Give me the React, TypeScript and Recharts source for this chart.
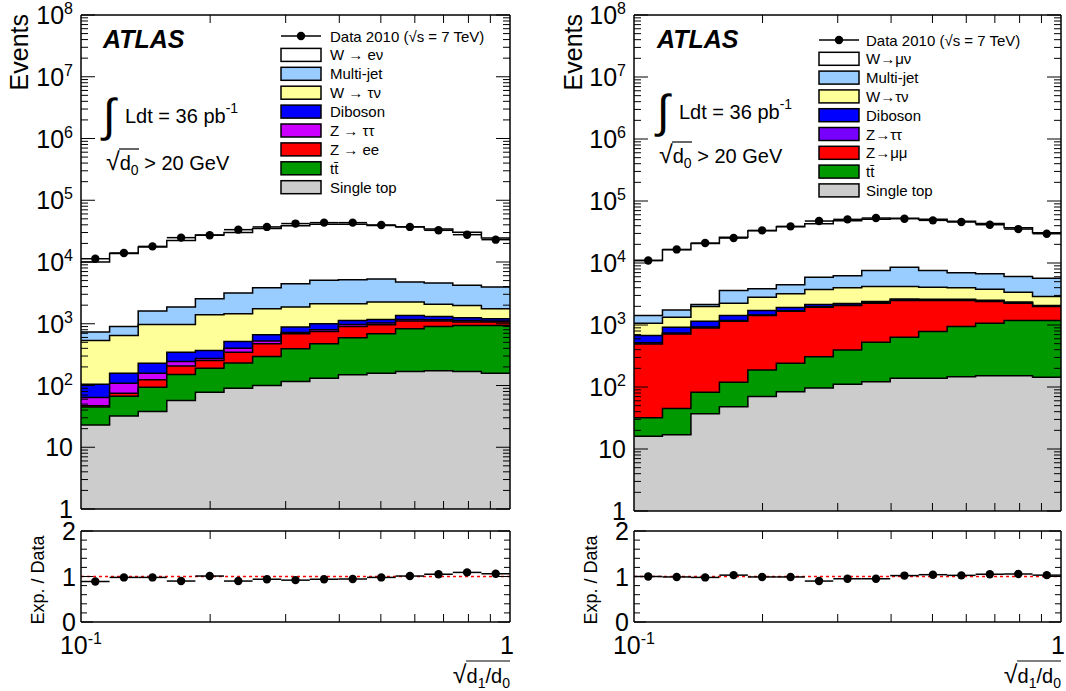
import React from "react";
import {
  ComposedChart,
  Area,
  Scatter,
  ErrorBar,
  XAxis,
  YAxis,
  ReferenceLine,
} from "recharts";

const FONT = "'Liberation Sans', Arial, Helvetica, sans-serif";

// 15 bins, uniform in log10(sqrt(d1/d0)) between 0.1 and 1
const N_BINS = 15;
const binEdges = Array.from({ length: N_BINS + 1 }, (_, i) =>
  Math.pow(10, -1 + i / N_BINS)
);
const binCenters = Array.from({ length: N_BINS }, (_, i) =>
  Math.pow(10, -1 + (i + 0.5) / N_BINS)
);

const xTicks = [0.1, 0.2, 0.3, 0.4, 0.5, 0.6, 0.7, 0.8, 0.9, 1];
const yDecades = [0, 1, 2, 3, 4, 5, 6, 7, 8];
const ratioTicks = [0, 0.2, 0.4, 0.6, 0.8, 1, 1.2, 1.4, 1.6, 1.8, 2];

// ---- electron channel ----
const dataEl = [11300, 14000, 17900, 24800, 27100, 33400, 37000, 41900, 43400, 43400, 39800, 37000, 32600, 27700, 23000];
const ratioEl = [0.89, 0.98, 0.98, 0.9, 1.01, 0.9, 0.94, 0.92, 0.94, 0.945, 0.98, 1.01, 1.05, 1.09, 1.06];
const wenuEl = [9290, 12800, 15900, 20460, 24800, 26900, 30900, 34100, 35750, 35800, 33700, 32600, 29700, 26000, 20450];
const multijetEl = [196, 258, 629, 887, 1143, 1688, 2088, 2592, 2935, 3064, 3054, 2498, 2504, 2202, 2185];
const wtaunuEl = [431, 489, 745, 628, 1030, 935, 1087, 979, 1110, 977, 1071, 881, 746, 733, 545];
const dibosonEl = [41, 49, 72, 102, 96, 114, 139, 160, 200, 158, 150, 190, 154, 117, 105];
const ztautauEl = [17, 34, 34, 39, 20, 56, 50, 34, 49, 70, 61, 70, 56, 69, 40];
const zeeEl = [2, 8, 30, 55, 63, 114, 179, 296, 277, 312, 276, 275, 200, 124, 124];
const ttbarEl = [22, 35, 56, 94, 113, 142, 195, 277, 343, 444, 530, 661, 732, 771, 782];
const singleTopEl = [23, 32, 38, 57, 78, 90, 100, 116, 131, 149, 158, 169, 173, 169, 158];

// ---- muon channel ----
const dataMu = [10990, 16560, 20960, 25240, 33560, 38990, 47530, 50570, 53120, 51780, 48710, 45800, 41440, 35250, 29650];
const ratioMu = [1.0, 0.99, 0.98, 1.03, 0.99, 0.99, 0.9, 0.95, 0.95, 1.02, 1.04, 1.025, 1.05, 1.055, 1.03];
const wmunuMu = [9528, 14625, 18446, 22477, 29362, 34118, 36960, 41980, 43048, 44136, 43083, 39995, 36702, 31134, 24935];
const multijetMu = [351, 420, 154, 1350, 1023, 1265, 2179, 2240, 3398, 4399, 3501, 2977, 2900, 2674, 2816];
const wtaunuMu = [393, 414, 834, 828, 1097, 1256, 1593, 1754, 1781, 1557, 1466, 1372, 1282, 1033, 805];
const dibosonMu = [155, 177, 222, 239, 256, 220, 170, 130, 120, 110, 100, 95, 90, 80, 70];
const ztautauMu = [25, 25, 30, 30, 35, 35, 35, 30, 30, 30, 28, 26, 24, 22, 20];
const zmumuMu = [462, 671, 815, 1030, 1230, 1426, 1627, 1664, 1720, 1846, 1698, 1538, 1323, 1068, 804];
const ttbarMu = [16, 28, 45, 71, 118, 157, 212, 284, 404, 496, 643, 796, 915, 1026, 1035];
const singleTopMu = [16, 17, 37, 48, 70, 84, 96, 111, 122, 138, 139, 146, 152, 152, 143];

// legend order (top of stack first)
const namesEl = ["W \u2192 e\u03bd", "Multi-jet", "W \u2192 \u03c4\u03bd", "Diboson", "Z \u2192 \u03c4\u03c4", "Z \u2192 ee", "tt\u0304", "Single top"];
const namesMu = ["W\u2192\u03bc\u03bd", "Multi-jet", "W\u2192\u03c4\u03bd", "Diboson", "Z\u2192\u03c4\u03c4", "Z\u2192\u03bc\u03bc", "tt\u0304", "Single top"];
const colorsEl = ["#ffffff", "#99ccff", "#ffff99", "#0000ff", "#cc00ff", "#ff0000", "#009900", "#cccccc"];
const colorsMu = ["#ffffff", "#99ccff", "#ffff99", "#0000ff", "#7700ff", "#ff0000", "#009900", "#cccccc"];

const compsEl = [wenuEl, multijetEl, wtaunuEl, dibosonEl, ztautauEl, zeeEl, ttbarEl, singleTopEl];
const compsMu = [wmunuMu, multijetMu, wtaunuMu, dibosonMu, ztautauMu, zmumuMu, ttbarMu, singleTopMu];

// cumulative stack tops at bin edges (last edge repeats the last bin for stepAfter)
function buildStack(comps: number[][]) {
  const bottomUp = [...comps].reverse();
  return binEdges.map((x, i) => {
    const b = Math.min(i, N_BINS - 1);
    const row: Record<string, number> = { x };
    let sum = 0;
    bottomUp.forEach((c, k) => {
      sum += c[b];
      row[`s${k}`] = sum;
    });
    return row;
  });
}

function toPoints(vals: number[]) {
  return binCenters.map((x, i) => ({
    x,
    y: vals[i],
    ex: [x - binEdges[i], binEdges[i + 1] - x],
  }));
}

const logTicks: number[] = [];
yDecades.forEach((e) => {
  if (e === 8) logTicks.push(1e8);
  else for (let m = 1; m <= 9; m++) logTicks.push(m * Math.pow(10, e));
});

const dot = (p: any) => <circle cx={p.cx} cy={p.cy} r={4.2} fill="#000" />;

const axisLine = { stroke: "#000", strokeWidth: 1.5 };

const logYTick = (side: "left" | "right") => (p: any) => {
  const v = p.payload.value;
  const e = Math.round(Math.log10(v));
  const major = Math.abs(v / Math.pow(10, e) - 1) < 1e-6;
  const len = major ? 14 : 7;
  const dir = side === "left" ? 1 : -1;
  return (
    <g>
      <line x1={p.x} x2={p.x + dir * len} y1={p.y} y2={p.y} stroke="#000" strokeWidth={1} />
      {side === "left" && major && (
        <text x={p.x - 8} y={p.y + 9} textAnchor="end" fontSize={25} fontFamily={FONT} fill="#000">
          {e === 0 ? "1" : e === 1 ? "10" : (
            <>
              10<tspan dy={-10} fontSize={16}>{e}</tspan>
            </>
          )}
        </text>
      )}
    </g>
  );
};

const ratioYTick = (side: "left" | "right") => (p: any) => {
  const v = p.payload.value;
  const major = Math.abs(v - Math.round(v)) < 1e-6;
  const len = major ? 12 : 6;
  const dir = side === "left" ? 1 : -1;
  return (
    <g>
      <line x1={p.x} x2={p.x + dir * len} y1={p.y} y2={p.y} stroke="#000" strokeWidth={1} />
      {side === "left" && major && (
        <text x={p.x - 5} y={p.y + 9} textAnchor="end" fontSize={25} fontFamily={FONT} fill="#000">
          {Math.round(v)}
        </text>
      )}
    </g>
  );
};

const xTick = (side: "bottom" | "top", labels: boolean) => (p: any) => {
  const v = p.payload.value;
  const isOne = Math.abs(v - 1) < 1e-9;
  const edge = Math.abs(v - 0.1) < 1e-9 || isOne;
  const dir = side === "bottom" ? -1 : 1;
  return (
    <g>
      {!edge && (
        <line x1={p.x} x2={p.x} y1={p.y} y2={p.y + dir * 8} stroke="#000" strokeWidth={1} />
      )}
      {labels && edge && (
        <text
          x={isOne ? p.x + 4 : p.x}
          y={p.y + 32}
          textAnchor={isOne ? "end" : "middle"}
          fontSize={25}
          fontFamily={FONT}
          fill="#000"
        >
          {isOne ? "1" : (
            <>
              10<tspan dy={-10} fontSize={16}>-1</tspan>
            </>
          )}
        </text>
      )}
    </g>
  );
};

type Margin = { top: number; right: number; bottom: number; left: number };

// axes are 1px wide, margins are set so the plot frame lands where intended
const AX = 1;
function inner(m: Margin): Margin {
  return { top: m.top - AX, right: m.right - AX, bottom: m.bottom - AX, left: m.left - AX };
}

function MainPlot({ comps, colors, data, width, margin }: { comps: number[][]; colors: string[]; data: number[]; width: number; margin: Margin }) {
  const rows = buildStack(comps);
  const pts = toPoints(data);
  const n = comps.length;
  const order = Array.from({ length: n }, (_, j) => n - 1 - j);
  return (
    <ComposedChart width={width} height={535} data={rows} margin={inner(margin)}>
      <XAxis dataKey="x" type="number" scale="log" domain={[0.1, 1]} allowDataOverflow ticks={xTicks} interval={0} height={AX} tickSize={0} tickMargin={0} axisLine={axisLine} tickLine={false} tick={xTick("bottom", false)} />
      <XAxis xAxisId="top" orientation="top" dataKey="x" type="number" scale="log" domain={[0.1, 1]} allowDataOverflow ticks={xTicks} interval={0} height={AX} tickSize={0} tickMargin={0} axisLine={axisLine} tickLine={false} tick={xTick("top", false)} />
      <YAxis type="number" scale="log" domain={[1, 1e8]} allowDataOverflow ticks={logTicks} interval={0} width={AX} tickSize={0} tickMargin={0} axisLine={axisLine} tickLine={false} tick={logYTick("left")} />
      <YAxis yAxisId="right" orientation="right" type="number" scale="log" domain={[1, 1e8]} allowDataOverflow ticks={logTicks} interval={0} width={AX} tickSize={0} tickMargin={0} axisLine={axisLine} tickLine={false} tick={logYTick("right")} />
      {order.map((k) => (
        <Area
          key={k}
          dataKey={`s${k}`}
          type="stepAfter"
          baseValue={1}
          fill={colors[n - 1 - k]}
          fillOpacity={1}
          stroke="#000"
          strokeWidth={1.5}
          dot={false}
          activeDot={false}
          isAnimationActive={false}
        />
      ))}
      <Scatter data={pts} dataKey="y" shape={dot} isAnimationActive={false}>
        <ErrorBar dataKey="ex" direction="x" width={0} stroke="#000" strokeWidth={1.5} />
      </Scatter>
    </ComposedChart>
  );
}

function RatioPlot({ ratio, width, margin }: { ratio: number[]; width: number; margin: Margin }) {
  const pts = toPoints(ratio);
  return (
    <ComposedChart width={width} height={191} margin={inner(margin)}>
      <XAxis dataKey="x" type="number" scale="log" domain={[0.1, 1]} allowDataOverflow ticks={xTicks} interval={0} height={AX} tickSize={0} tickMargin={0} axisLine={axisLine} tickLine={false} tick={xTick("bottom", true)} />
      <XAxis xAxisId="top" orientation="top" dataKey="x" type="number" scale="log" domain={[0.1, 1]} allowDataOverflow ticks={xTicks} interval={0} height={AX} tickSize={0} tickMargin={0} axisLine={axisLine} tickLine={false} tick={xTick("top", false)} />
      <YAxis type="number" domain={[0, 2]} allowDataOverflow ticks={ratioTicks} interval={0} width={AX} tickSize={0} tickMargin={0} axisLine={axisLine} tickLine={false} tick={ratioYTick("left")} />
      <YAxis yAxisId="right" orientation="right" type="number" domain={[0, 2]} allowDataOverflow ticks={ratioTicks} interval={0} width={AX} tickSize={0} tickMargin={0} axisLine={axisLine} tickLine={false} tick={ratioYTick("right")} />
      <ReferenceLine y={1} stroke="#ff0000" strokeWidth={1.5} strokeDasharray="3 3" />
      <Scatter data={pts} dataKey="y" shape={dot} isAnimationActive={false}>
        <ErrorBar dataKey="ex" direction="x" width={0} stroke="#000" strokeWidth={1.5} />
      </Scatter>
    </ComposedChart>
  );
}

type TextCfg = {
  names: string[];
  colors: string[];
  legendX: number;
  legendY: number;
  legendDy: number;
  textX: number;
  atlasX: number;
  intX: number;
  intY: number;
  cutX: number;
  cutY: number;
  eventsX: number;
  ratioTitleX: number;
  frameRight: number;
};

function PanelText({ c }: { c: TextCfg }) {
  return (
    <g fontFamily={FONT} fill="#000">
      <text transform={`translate(${c.eventsX},14) rotate(-90)`} textAnchor="end" fontSize={25}>Events</text>
      <text transform={`translate(${c.ratioTitleX},580) rotate(-90)`} textAnchor="middle" fontSize={18}>Exp. / Data</text>
      <text x={c.atlasX} y={48} fontSize={25} fontWeight="bold" fontStyle="italic">ATLAS</text>
      <text x={c.intX} y={c.intY + 8} fontSize={46}>{"\u222b"}</text>
      <text x={c.intX + 22} y={c.intY} fontSize={20}>
        Ldt = 36 pb<tspan dy={-10} fontSize={14}>-1</tspan>
      </text>
      <text x={c.cutX} y={c.cutY} fontSize={20}>
        <tspan fontSize={25}>{"\u221a"}</tspan>d<tspan dy={5} fontSize={14}>0</tspan>
        <tspan dy={-5}> &gt; 20 GeV</tspan>
      </text>
      <line x1={c.cutX + 13} x2={c.cutX + 33} y1={c.cutY - 21} y2={c.cutY - 21} stroke="#000" strokeWidth={1.2} />
      {/* legend */}
      <line x1={c.legendX} x2={c.legendX + 40} y1={c.legendY} y2={c.legendY} stroke="#000" strokeWidth={1.5} />
      <circle cx={c.legendX + 20} cy={c.legendY} r={4.2} fill="#000" />
      <text x={c.textX} y={c.legendY + 5.5} fontSize={15}>Data 2010 ({"\u221a"}s = 7 TeV)</text>
      {c.names.map((name, i) => {
        const y = c.legendY + (i + 1) * c.legendDy;
        return (
          <g key={name}>
            <rect x={c.legendX} y={y - 6.5} width={40} height={13} fill={c.colors[i]} stroke="#000" strokeWidth={1.5} />
            <text x={c.textX} y={y + 5.5} fontSize={15}>{name}</text>
          </g>
        );
      })}
      {/* x title */}
      <text x={c.frameRight} y={683} textAnchor="end" fontSize={20}>
        <tspan fontSize={25}>{"\u221a"}</tspan>d<tspan dy={5} fontSize={14}>1</tspan>
        <tspan dy={-5}>/d</tspan>
        <tspan dy={5} fontSize={14}>0</tspan>
      </text>
      <line x1={c.frameRight - 44} x2={c.frameRight} y1={661} y2={661} stroke="#000" strokeWidth={1.2} />
    </g>
  );
}

const textEl: TextCfg = {
  names: namesEl, colors: colorsEl, legendX: 281, legendY: 36, legendDy: 18.9, textX: 330,
  atlasX: 103, intX: 103, intY: 123, cutX: 106, cutY: 170, eventsX: 28, ratioTitleX: 44, frameRight: 510,
};
const textMu: TextCfg = {
  names: namesMu, colors: colorsMu, legendX: 819, legendY: 40, legendDy: 18.8, textX: 866,
  atlasX: 657, intX: 657, intY: 119, cutX: 659, cutY: 163, eventsX: 582, ratioTitleX: 597, frameRight: 1061,
};

export default function App() {
  return (
    <div style={{ position: "absolute", left: 0, top: 0, width: 1066, height: 691, background: "#fff", fontFamily: FONT }}>
      <div style={{ position: "absolute", left: 0, top: 0 }}>
        <MainPlot comps={compsEl} colors={colorsEl} data={dataEl} width={530} margin={{ top: 15, right: 20, bottom: 26, left: 81 }} />
      </div>
      <div style={{ position: "absolute", left: 530, top: 0 }}>
        <MainPlot comps={compsMu} colors={colorsMu} data={dataMu} width={536} margin={{ top: 15, right: 5, bottom: 24, left: 104 }} />
      </div>
      <div style={{ position: "absolute", left: 0, top: 500 }}>
        <RatioPlot ratio={ratioEl} width={530} margin={{ top: 31, right: 20, bottom: 69, left: 81 }} />
      </div>
      <div style={{ position: "absolute", left: 530, top: 500 }}>
        <RatioPlot ratio={ratioMu} width={536} margin={{ top: 31, right: 5, bottom: 69, left: 104 }} />
      </div>
      <svg width={1066} height={691} style={{ position: "absolute", left: 0, top: 0, pointerEvents: "none" }}>
        <PanelText c={textEl} />
        <PanelText c={textMu} />
      </svg>
    </div>
  );
}
